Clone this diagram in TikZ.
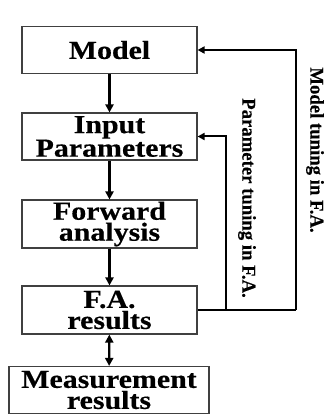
\documentclass[tikz,border=0pt]{standalone}
\usepackage{fontspec}
\setmainfont{Liberation Serif}
\newfontfamily\boxfont{Liberation Serif}[FakeStretch=1.15,FakeBold=0.4]
\newfontfamily\tunefont{Liberation Serif}[FakeStretch=0.96,FakeBold=0.3]
\usetikzlibrary{arrows.meta}

\tikzset{
  stage/.style={draw=black!75, line width=1.1pt, minimum width=175pt, minimum height=47pt,
    inner sep=0pt, align=center, font=\boxfont\bfseries\fontsize{26}{21}\selectfont},
  flow/.style={line width=2.4pt, -{Triangle[length=8pt,width=8pt]}},
  tune/.style={line width=2pt, -{Triangle[length=7pt,width=7pt]}},
  tunelabel/.style={rotate=-90, inner sep=0pt, font=\tunefont\bfseries\fontsize{19.5}{20}\selectfont}
}

\begin{document}
\begin{tikzpicture}[x=1pt,y=1pt,yscale=-1]
	\useasboundingbox (0,0) rectangle (329,414);

	% main chain
	\node[stage] (model)   at (109.5,50)  {Model};
	\node[stage] (input)   at (109.5,136.5) {Input\\Parameters};
	\node[stage, minimum height=48pt] (forward) at (109.5,224) {Forward\\analysis};
	\node[stage, minimum height=48pt] (fares)   at (109.5,310) {F.A.\\results};
	\node[stage, minimum width=200pt] (meas) at (109,390) {Measurement\\results};

	\draw[flow] (model) -- (input);
	\draw[flow] (input) -- (forward);
	\draw[flow] (forward) -- (fares);
	\draw[line width=2.4pt, {Triangle[length=8pt,width=8pt]}-{Triangle[length=8pt,width=8pt]}] (fares) -- (meas);

	% feedback loops
	\coordinate (mturn) at (296,310);
	\coordinate (pturn) at (226,310);
	\draw[line width=1.3pt] (fares.east) -- (mturn);
	\draw[tune] (mturn) |- (model.east);
	\draw[tune] (pturn) |- (input.east);

	\node[tunelabel] (mlabel) at (315,150) {Model tuning in F.A.};
	\node[tunelabel] (plabel) at (247,198) {Parameter tuning in F.A.};
\end{tikzpicture}
\end{document}
